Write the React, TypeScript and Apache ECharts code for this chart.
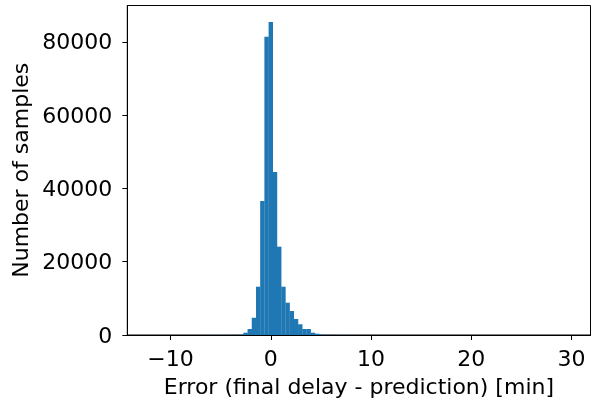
import React, { useEffect, useRef } from "react";
import * as echarts from "echarts";

const binStart = -12.4;
const binWidth = 0.42;
const counts = [
  1, 1, 1, 2, 2, 2, 3, 3, 4, 5, 6, 7, 9, 11, 14, 17, 21, 27, 34, 43, 55, 70, 90,
  630, 1640, 4720, 13180, 36560, 81380, 85390, 44470, 24090, 13180, 8810, 6550,
  4365, 2920, 1640, 1640, 630, 350, 150, 90, 60, 45, 35, 28, 23, 19, 16, 14, 12,
  11, 10, 9, 8, 7, 7, 6, 6, 5, 5, 5, 4, 4, 4, 4, 3, 3, 3, 3, 3, 3, 2, 2, 2, 2, 2,
  2, 2, 2, 2, 2, 1, 1, 1, 1, 1, 1, 1, 1, 1, 1, 1, 1, 1, 1, 1, 1, 1,
];
const xTicks = [-10, 0, 10, 20, 30];
const yTicks = [0, 20000, 40000, 60000, 80000];
const xLabel = "Error (final delay - prediction) [min]";
const yLabel = "Number of samples";

export default function App() {
  const ref = useRef<HTMLDivElement>(null);
  useEffect(() => {
    if (!ref.current) return;
    const chart = echarts.init(ref.current, undefined, { renderer: "svg" });
    const data = counts.map((c, i) => [
      binStart + i * binWidth,
      binStart + (i + 1) * binWidth,
      c,
    ]);
    const font = "DejaVu Sans";
    chart.setOption({
      animation: false,
      grid: {
        left: 127.3,
        right: 0.5,
        top: 5.5,
        bottom: 70,
        show: true,
        borderColor: "#000",
        borderWidth: 1,
        backgroundColor: "transparent",
      },
      xAxis: {
        type: "value",
        min: -14.32,
        max: 31.9,
        splitLine: { show: false },
        axisLine: { show: true, onZero: false, lineStyle: { color: "#000", width: 1 } },
        axisTick: {
          show: true,
          length: 5,
          customValues: xTicks,
          lineStyle: { color: "#000", width: 1 },
        },
        axisLabel: {
          customValues: xTicks,
          color: "#000",
          fontFamily: font,
          fontSize: 22,
          margin: 12,
          formatter: (v: number) => (v < 0 ? "\u2212" + Math.abs(v) : String(v)),
        },
        name: xLabel,
        nameLocation: "middle",
        nameGap: 40,
        nameTextStyle: { color: "#000", fontFamily: font, fontSize: 22 },
      },
      yAxis: {
        type: "value",
        min: 0,
        max: 89900,
        splitLine: { show: false },
        axisLine: { show: true, onZero: false, lineStyle: { color: "#000", width: 1 } },
        axisTick: {
          show: true,
          length: 5,
          customValues: yTicks,
          lineStyle: { color: "#000", width: 1 },
        },
        axisLabel: {
          customValues: yTicks,
          color: "#000",
          fontFamily: font,
          fontSize: 22,
          margin: 15,
          formatter: (v: number) => String(v),
        },
        name: yLabel,
        nameLocation: "middle",
        nameGap: 95,
        nameTextStyle: { color: "#000", fontFamily: font, fontSize: 22 },
      },
      series: [
        {
          type: "custom",
          data,
          encode: { x: [0, 1], y: 2 },
          renderItem: (params: any, api: any) => {
            const p0 = api.coord([api.value(0), api.value(2)]);
            const p1 = api.coord([api.value(1), 0]);
            return {
              type: "rect",
              shape: {
                x: p0[0],
                y: p0[1],
                width: p1[0] - p0[0] + 0.2,
                height: p1[1] - p0[1],
              },
              style: { fill: "#1f77b4" },
            };
          },
        },
      ],
    });
    return () => chart.dispose();
  }, []);
  return (
    <div
      ref={ref}
      style={{ position: "fixed", left: 0, top: 0, width: 591, height: 405 }}
    />
  );
}
